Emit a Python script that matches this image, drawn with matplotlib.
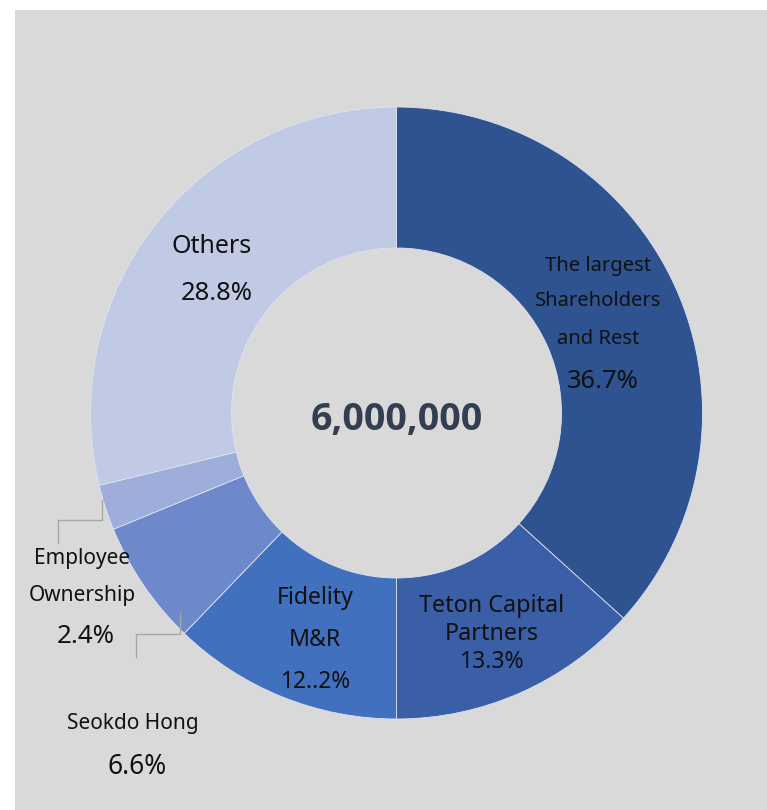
import matplotlib
matplotlib.use("Agg")
import matplotlib.pyplot as plt
from matplotlib.patches import Rectangle

labels = ["The largest\nShareholders\nand Rest", "Teton Capital\nPartners", "Fidelity\nM&R",
          "Seokdo Hong", "Employee\nOwnership", "Others"]
values = [36.7, 13.3, 12.2, 6.6, 2.4, 28.8]
pct_labels = ["36.7%", "13.3%", "12..2%", "6.6%", "2.4%", "28.8%"]
colors = ["#2F5390", "#3A5FA6", "#4170BE", "#6E89CB", "#9EADDA", "#C0CAE5"]
total_label = "6,000,000"

plt.rcParams['font.family'] = ['Noto Sans', 'DejaVu Sans']

W, H = 767, 810
fig = plt.figure(figsize=(W / 100, H / 100), dpi=100, facecolor="white")
ax = fig.add_axes([0, 0, 1, 1])
ax.set_xlim(0, W)
ax.set_ylim(0, H)
ax.set_aspect("equal")
ax.axis("off")
ax.add_patch(Rectangle((15, 0), W - 15, H - 10, facecolor="#D9D9D9", edgecolor="none", zorder=0))

cx, cy = 396.5, H - 413
R, r = 306, 165
ax.pie(values, startangle=90, counterclock=False, radius=R, center=(cx, cy),
       colors=colors, frame=True,
       wedgeprops=dict(width=R - r, edgecolor="#DDE3F0", linewidth=0.6))
ax.set_xlim(0, W)
ax.set_ylim(0, H)
ax.axis("off")

ax.text(cx, H - 420, total_label, ha="center", va="center", fontsize=27,
        fontweight="bold", color="#333F50", family=["Open Sans", "DejaVu Sans"])

def y(p):
    return H - p - 2.5

txt = "#111111"
# The largest
for s, yy in [("The largest", 263), ("Shareholders", 299), ("and Rest", 336)]:
    ax.text(598, y(yy), s, ha="center", va="center", fontsize=14.5, color=txt)
ax.text(603, y(379), pct_labels[0], ha="center", va="center", fontsize=18.4, color=txt)
# Teton
ax.text(492, y(603), "Teton Capital", ha="center", va="center", fontsize=16.8, color=txt)
ax.text(492, y(631), "Partners", ha="center", va="center", fontsize=16.8, color=txt)
ax.text(492, y(659), pct_labels[1], ha="center", va="center", fontsize=16.6, color=txt)
# Fidelity
ax.text(315, y(596), "Fidelity", ha="center", va="center", fontsize=16.6, color=txt)
ax.text(315, y(637), "M&R", ha="center", va="center", fontsize=16.6, color=txt)
ax.text(315, y(679), pct_labels[2], ha="center", va="center", fontsize=16.4, color=txt)
# Others
ax.text(212, y(244), "Others", ha="center", va="center", fontsize=18, color=txt)
ax.text(217, y(291), pct_labels[5], ha="center", va="center", fontsize=18.4, color=txt)
# Employee
ax.text(82, y(556), "Employee", ha="center", va="center", fontsize=15, color=txt)
ax.text(82, y(593), "Ownership", ha="center", va="center", fontsize=15, color=txt)
ax.text(86, y(634), pct_labels[4], ha="center", va="center", fontsize=18.6, color=txt)
# Seokdo
ax.text(133, y(721), "Seokdo Hong", ha="center", va="center", fontsize=15, color=txt)
ax.text(137, y(765), pct_labels[3], ha="center", va="center", fontsize=19, color=txt)

lc = "#A6A6A6"
ax.plot([102, 102, 58, 58], [H - 500, H - 520, H - 520, H - 543], color=lc, lw=1)
ax.plot([180, 180, 136, 136], [H - 613, H - 634, H - 634, H - 657], color=lc, lw=1)

fig.savefig("out.png", dpi=100, facecolor="white")
